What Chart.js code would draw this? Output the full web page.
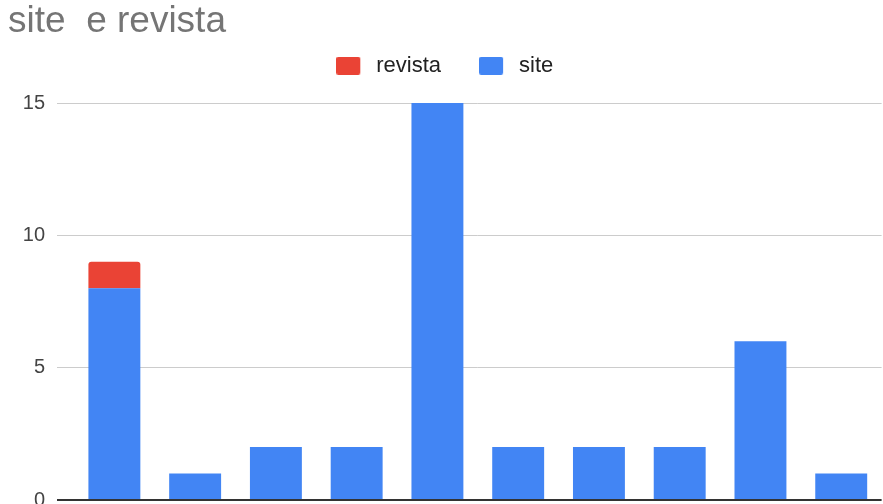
<!DOCTYPE html>
<html>
<head>
<meta charset="utf-8">
<script src="https://cdn.jsdelivr.net/npm/chart.js@4"></script>
<style>
html,body{margin:0;padding:0;background:#fff;}
#wrap{width:883px;height:504px;}
</style>
</head>
<body>
<div id="wrap"><canvas id="c" width="883" height="504"></canvas></div>
<script>
const categories = ["1","2","3","4","5","6","7","8","9","10"];
const siteValues = [8,1,2,2,15,2,2,2,6,1];
const revistaValues = [1,0,0,0,0,0,0,0,0,0];
const yTicks = [0,5,10,15];
const chartTitle = "site  e revista";

const FONT = "Arial, 'Liberation Sans', sans-serif";

function legendSwatch(color){
  const cv = document.createElement('canvas');
  cv.width = 29; cv.height = 18;
  const g = cv.getContext('2d');
  g.fillStyle = color;
  g.beginPath();
  if (g.roundRect) g.roundRect(0,0,24,18,2); else g.rect(0,0,24,18);
  g.fill();
  return cv;
}

const legendFit = {
  id: 'legendFit',
  beforeInit(chart){
    const l = chart.legend;
    if (!l) return;
    const f = l.fit;
    l.fit = function(){ f.call(this); this.height = 86.3; };
  }
};

new Chart(document.getElementById('c'), {
  type: 'bar',
  data: {
    labels: categories,
    datasets: [
      { label: 'site', data: siteValues, backgroundColor: '#4285F4', borderWidth: 0 },
      { label: 'revista', data: revistaValues, backgroundColor: '#EA4335', borderWidth: 0,
        borderRadius: {topLeft: 3, topRight: 3, bottomLeft: 0, bottomRight: 0}, borderSkipped: 'bottom' }
    ]
  },
  options: {
    responsive: false,
    animation: false,
    layout: { autoPadding: false, padding: { top: 0, left: 8, right: 1.4, bottom: 4 } },
    datasets: { bar: { categoryPercentage: 1, barPercentage: 0.643 } },
    plugins: {
      title: {
        display: true, text: chartTitle, align: 'start', color: '#757575',
        font: { family: FONT, size: 37, weight: 'normal', lineHeight: 1.1 },
        padding: { top: 1, bottom: -25 }
      },
      legend: {
        display: true, position: 'top', reverse: true,
        labels: {
          color: '#222', padding: 38, usePointStyle: true, pointStyleWidth: 29, boxHeight: 18,
          font: { family: FONT, size: 22 },
          generateLabels(chart){
            const items = Chart.defaults.plugins.legend.labels.generateLabels(chart);
            items.forEach(it => { it.pointStyle = legendSwatch(it.fillStyle); });
            return items;
          }
        }
      },
      tooltip: { enabled: false }
    },
    scales: {
      x: {
        display: false,
        stacked: true
      },
      y: {
        stacked: true, min: 0, max: 15,
        afterBuildTicks(s){ s.ticks = yTicks.map(v => ({value: v})); },
        afterFit(s){ s.width = 66; s.paddingTop = 0; s.paddingBottom = 0; },
        ticks: { color: '#444', padding: 12, font: { family: FONT, size: 20 } },
        grid: {
          color: ctx => (ctx.tick && ctx.tick.value === 0) ? '#333' : '#ccc',
          lineWidth: ctx => (ctx.tick && ctx.tick.value === 0) ? 2 : 1,
          tickLength: 17
        },
        border: { display: false }
      }
    }
  },
  plugins: [legendFit]
});
</script>
</body>
</html>
